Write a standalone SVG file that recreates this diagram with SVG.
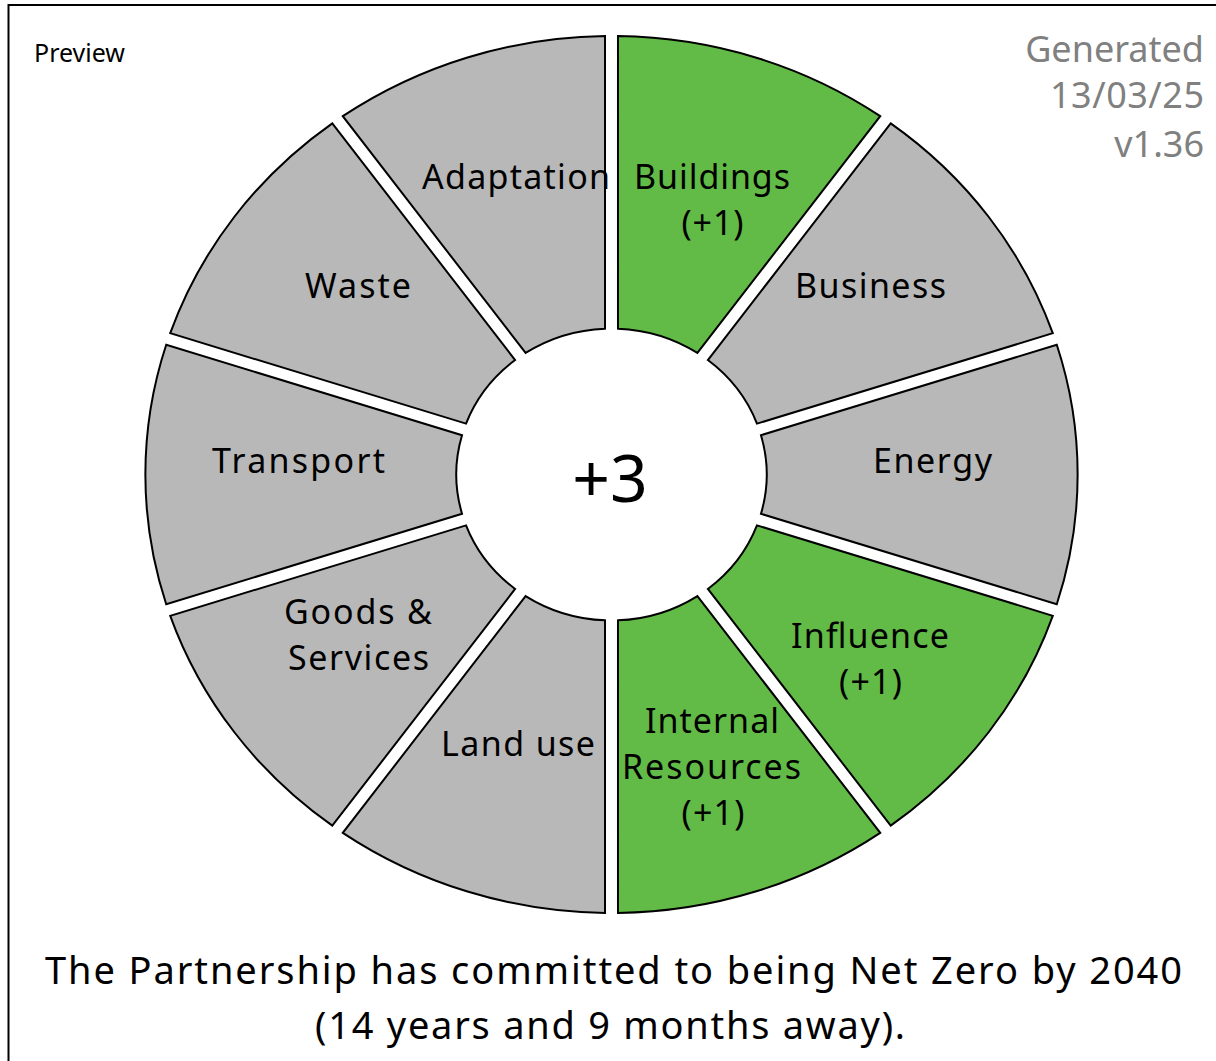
<svg xmlns="http://www.w3.org/2000/svg" width="1216" height="1061" viewBox="0 0 1216 1061">
  <style>
    .seg { stroke: #000; stroke-width: 2; stroke-linejoin: miter; vector-effect: non-scaling-stroke; }
    .off { fill: #b8b8b8; }
    .on { fill: #62bb46; }
    .lbl { font-family: "Noto Sans", "Open Sans", sans-serif; font-size: 34px; fill: #000; text-anchor: middle; }
    .meta { font-family: "Noto Sans", "Open Sans", sans-serif; font-size: 36px; fill: #808080; text-anchor: end; }
    .cap { font-family: "Noto Sans", "Open Sans", sans-serif; font-size: 38px; fill: #000; text-anchor: middle; }
  </style>
  <rect width="1216" height="1061" fill="#fff"/>
  <!-- frame -->
  <rect x="8.5" y="5" width="1220" height="1070" fill="none" stroke="#000" stroke-width="2"/>
  <text x="34" y="62" font-family="Noto Sans, Open Sans, sans-serif" font-size="26" fill="#000" textLength="91" lengthAdjust="spacingAndGlyphs">Preview</text>
  <g id="stamp">
    <text class="meta" x="1204" y="62">Generated</text>
    <text class="meta" x="1204" y="108" textLength="154" lengthAdjust="spacing">13/03/25</text>
    <text class="meta" x="1204" y="157">v1.36</text>
  </g>

  <!-- wheel: ten 36-degree sectors, drawn on a unit circle then stretched horizontally -->
  <g id="wheel" transform="translate(611.5 474.5) scale(1.063 1)">
    <path id="seg-buildings" class="seg on" d="M6.1 -438.458 A438.5 438.5 0 0 1 252.782 -358.305 L80.807 -121.599 A146 146 0 0 0 6.1 -145.873 Z"/>
    <path id="seg-business" class="seg off" d="M262.652 -351.135 A438.5 438.5 0 0 1 415.116 -141.292 L136.848 -50.878 A146 146 0 0 0 90.677 -114.429 Z"/>
    <path id="seg-energy" class="seg off" d="M418.886 -129.690 A438.5 438.5 0 0 1 418.886 129.690 L140.618 39.276 A146 146 0 0 0 140.618 -39.276 Z"/>
    <path id="seg-influence" class="seg on" d="M415.116 141.292 A438.5 438.5 0 0 1 262.652 351.135 L90.677 114.429 A146 146 0 0 0 136.848 50.878 Z"/>
    <path id="seg-internal" class="seg on" d="M252.782 358.305 A438.5 438.5 0 0 1 6.1 438.458 L6.1 145.873 A146 146 0 0 0 80.807 121.599 Z"/>
    <path id="seg-landuse" class="seg off" d="M-6.1 438.458 A438.5 438.5 0 0 1 -252.782 358.305 L-80.807 121.599 A146 146 0 0 0 -6.1 145.873 Z"/>
    <path id="seg-goods" class="seg off" d="M-262.652 351.135 A438.5 438.5 0 0 1 -415.116 141.292 L-136.848 50.878 A146 146 0 0 0 -90.677 114.429 Z"/>
    <path id="seg-transport" class="seg off" d="M-418.886 129.690 A438.5 438.5 0 0 1 -418.886 -129.690 L-140.618 -39.276 A146 146 0 0 0 -140.618 39.276 Z"/>
    <path id="seg-waste" class="seg off" d="M-415.116 -141.292 A438.5 438.5 0 0 1 -262.652 -351.135 L-90.677 -114.429 A146 146 0 0 0 -136.848 -50.878 Z"/>
    <path id="seg-adaptation" class="seg off" d="M-252.782 -358.305 A438.5 438.5 0 0 1 -6.1 -438.458 L-6.1 -145.873 A146 146 0 0 0 -80.807 -121.599 Z"/>
  </g>

  <!-- sector labels -->
  <g id="buildings"><text class="lbl" x="712" y="189" textLength="156" lengthAdjust="spacing">Buildings</text><text class="lbl" x="712.5" y="235" textLength="62" lengthAdjust="spacing">(+1)</text></g>
  <g id="business"><text class="lbl" x="870.5" y="297.5" textLength="151" lengthAdjust="spacing">Business</text></g>
  <g id="energy"><text class="lbl" x="932.5" y="472.5" textLength="119" lengthAdjust="spacing">Energy</text></g>
  <g id="influence"><text class="lbl" x="870" y="647.5" textLength="158" lengthAdjust="spacing">Influence</text><text class="lbl" x="870.5" y="693.5" textLength="63" lengthAdjust="spacing">(+1)</text></g>
  <g id="internal-resources"><text class="lbl" x="712" y="732.5" textLength="134" lengthAdjust="spacing">Internal</text><text class="lbl" x="711.5" y="778.5" textLength="179" lengthAdjust="spacing">Resources</text><text class="lbl" x="713" y="824.5" textLength="63" lengthAdjust="spacing">(+1)</text></g>
  <g id="land-use"><text class="lbl" x="518" y="755.5" textLength="154" lengthAdjust="spacing">Land use</text></g>
  <g id="goods-services"><text class="lbl" x="358" y="623.5" textLength="148" lengthAdjust="spacing">Goods &amp;</text><text class="lbl" x="358.5" y="669.5" textLength="141" lengthAdjust="spacing">Services</text></g>
  <g id="transport"><text class="lbl" x="298.5" y="472.5" textLength="173" lengthAdjust="spacing">Transport</text></g>
  <g id="waste"><text class="lbl" x="358" y="297.5" textLength="106" lengthAdjust="spacing">Waste</text></g>
  <g id="adaptation"><text class="lbl" x="516" y="189" textLength="188" lengthAdjust="spacing">Adaptation</text></g>

  <g id="total"><text x="610" y="502" font-family="Noto Sans, Open Sans, sans-serif" font-size="66" fill="#000" text-anchor="middle">+3</text></g>

  <g id="caption">
    <text class="cap" x="613.5" y="984" textLength="1137" lengthAdjust="spacing">The Partnership has committed to being Net Zero by 2040</text>
    <text class="cap" x="610" y="1039" textLength="590" lengthAdjust="spacing">(14 years and 9 months away).</text>
  </g>
</svg>
